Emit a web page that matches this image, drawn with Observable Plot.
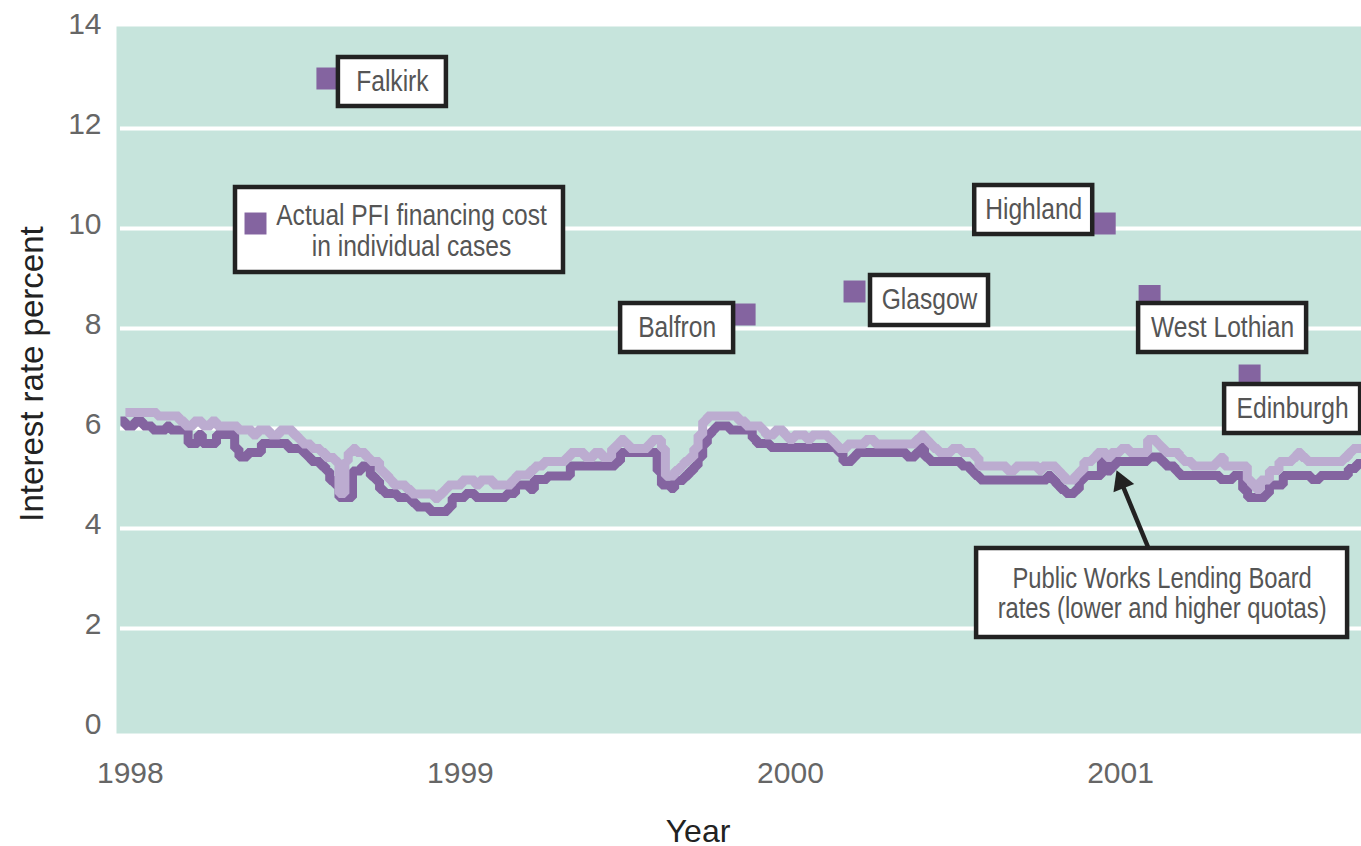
<!DOCTYPE html>
<html><head><meta charset="utf-8">
<script src="https://cdn.jsdelivr.net/npm/d3@7"></script>
<script src="https://cdn.jsdelivr.net/npm/@observablehq/plot@0.6"></script>
<style>
html,body{margin:0;padding:0;background:#fff;}
#chart svg{display:block;}
</style></head><body><div id="chart"></div>
<script>
// ---------- data ----------
const xTicks = [1998, 1999, 2000, 2001];
const yTicks = [0, 2, 4, 6, 8, 10, 12, 14];
const gridValues = [2, 4, 6, 8, 10, 12];
const yTitle = "Interest rate percent";
const xTitle = "Year";

// PWLB higher quota (upper, light line)
const upperYears = [1997.985,1998.081,1998.148,1998.165,1998.192,1998.218,1998.245,1998.261,1998.326,1998.370,1998.385,1998.422,1998.452,1998.493,1998.508,1998.521,1998.548,1998.576,1998.592,1998.619,1998.632,1998.650,1998.660,1998.673,1998.685,1998.713,1998.727,1998.755,1998.769,1998.783,1998.796,1998.836,1998.852,1998.921,1998.934,1998.949,1998.962,1999.005,1999.045,1999.059,1999.099,1999.155,1999.169,1999.210,1999.225,1999.252,1999.318,1999.333,1999.376,1999.404,1999.429,1999.458,1999.472,1999.485,1999.498,1999.512,1999.568,1999.581,1999.609,1999.621,1999.649,1999.665,1999.677,1999.692,1999.707,1999.720,1999.734,1999.748,1999.842,1999.864,1999.912,1999.924,1999.952,1999.980,1999.993,2000.010,2000.048,2000.064,2000.116,2000.131,2000.144,2000.172,2000.227,2000.255,2000.379,2000.394,2000.406,2000.419,2000.432,2000.448,2000.488,2000.518,2000.558,2000.571,2000.655,2000.682,2000.751,2000.763,2000.805,2000.818,2000.831,2000.862,2000.875,2000.889,2000.915,2000.929,2000.958,2000.971,2001.000,2001.026,2001.082,2001.109,2001.122,2001.136,2001.178,2001.190,2001.217,2001.289,2001.301,2001.314,2001.384,2001.397,2001.410,2001.424,2001.451,2001.480,2001.521,2001.535,2001.548,2001.564,2001.675,2001.690,2001.703,2001.730];
const upperRates = [6.32,6.25,6.15,6.05,6.15,6.05,6.15,6.05,5.97,5.87,5.97,5.87,5.97,5.87,5.78,5.69,5.60,5.52,5.42,5.34,4.70,5.34,5.52,5.60,5.52,5.42,5.34,5.16,5.07,4.97,4.87,4.78,4.69,4.60,4.69,4.78,4.87,4.97,4.87,4.97,4.87,4.97,5.07,5.16,5.25,5.34,5.42,5.52,5.42,5.52,5.42,5.60,5.69,5.78,5.69,5.60,5.69,5.78,5.60,5.05,5.16,5.25,5.34,5.42,5.60,5.87,6.15,6.25,6.15,6.05,5.97,5.87,5.97,5.87,5.78,5.87,5.78,5.87,5.78,5.69,5.60,5.69,5.78,5.69,5.78,5.87,5.78,5.69,5.60,5.52,5.60,5.52,5.42,5.25,5.16,5.25,5.16,5.25,5.16,5.07,4.97,5.07,5.16,5.34,5.42,5.52,5.42,5.52,5.60,5.52,5.78,5.69,5.60,5.52,5.42,5.34,5.25,5.34,5.42,5.25,4.97,4.87,4.78,4.97,5.16,5.34,5.42,5.52,5.42,5.34,5.42,5.52,5.60,5.60];

// PWLB lower quota (lower, dark line)
const lowerYears = [1997.970,1997.985,1998.013,1998.038,1998.067,1998.109,1998.121,1998.175,1998.205,1998.218,1998.261,1998.316,1998.329,1998.355,1998.397,1998.478,1998.521,1998.535,1998.548,1998.576,1998.592,1998.604,1998.619,1998.632,1998.673,1998.700,1998.727,1998.742,1998.755,1998.769,1998.809,1998.852,1998.867,1998.907,1998.962,1998.975,1999.015,1999.045,1999.139,1999.167,1999.210,1999.224,1999.263,1999.333,1999.470,1999.485,1999.596,1999.609,1999.636,1999.649,1999.677,1999.692,1999.707,1999.720,1999.734,1999.748,1999.761,1999.773,1999.815,1999.884,1999.897,1999.939,2000.144,2000.159,2000.187,2000.200,2000.352,2000.379,2000.394,2000.406,2000.421,2000.518,2000.545,2000.558,2000.574,2000.778,2000.791,2000.805,2000.818,2000.834,2000.862,2000.875,2000.889,2000.942,2000.958,2000.971,2000.985,2001.082,2001.122,2001.136,2001.165,2001.178,2001.301,2001.341,2001.370,2001.385,2001.439,2001.451,2001.493,2001.577,2001.604,2001.690,2001.715,2001.730];
const lowerRates = [6.15,6.05,6.15,6.05,5.97,6.05,5.97,5.70,5.88,5.70,5.88,5.60,5.43,5.52,5.70,5.60,5.52,5.43,5.34,5.25,5.15,4.96,4.87,4.62,5.15,5.25,5.05,4.96,4.78,4.70,4.62,4.52,4.43,4.34,4.43,4.62,4.70,4.62,4.70,4.87,4.78,4.98,5.05,5.25,5.34,5.52,5.15,4.87,4.80,4.96,5.05,5.15,5.25,5.43,5.70,5.88,5.97,6.05,5.97,5.80,5.70,5.62,5.52,5.34,5.43,5.52,5.43,5.52,5.70,5.43,5.34,5.25,5.15,5.06,4.97,5.06,4.97,4.87,4.78,4.70,4.78,4.97,5.06,5.34,5.15,5.25,5.34,5.43,5.34,5.25,5.15,5.06,4.98,5.06,4.78,4.62,4.70,4.87,5.06,4.98,5.06,5.20,5.30,5.30];

// Actual PFI financing cost in individual cases
const schemeNames = ["Falkirk", "Balfron", "Glasgow", "Highland", "West Lothian", "Edinburgh"];
const schemeYears = [1998.597, 1999.861, 2000.194, 2000.952, 2001.088, 2001.391];
const schemeRates = [13.0, 8.28, 8.74, 10.1, 8.65, 7.06];

const legendText = "Actual PFI financing cost\nin individual cases";
const pwlbText = "Public Works Lending Board\nrates (lower and higher quotas)";
const pwlbTarget = {year: 2000.988, rate: 5.16};
const pwlbTail = {year: 2001.085, rate: 3.60};

// ---------- layout (annotation placement, px) ----------
const labelLayout = {
  "Falkirk":      {dx: 65,    dy: 3.5,  w: 108, h: 49},
  "Balfron":      {dx: -67.5, dy: 13.5, w: 113, h: 49},
  "Glasgow":      {dx: 75,    dy: 9,    w: 118, h: 50},
  "Highland":     {dx: -71,   dy: -13.5,w: 118, h: 49},
  "West Lothian": {dx: 73,    dy: 32,   w: 168, h: 49},
  "Edinburgh":    {dx: 43,    dy: 33.5, w: 136, h: 49}
};
const pwlbBox = {dx: 45.5, dy: 122.5, w: 371, h: 89};
const legendBox = {x: 119, y: 161, w: 328, h: 85}; // relative to frame top-left

// ---------- build ----------
const upper = upperYears.map((y, i) => ({year: y, rate: upperRates[i]}));
const lower = lowerYears.map((y, i) => ({year: y, rate: lowerRates[i]}));
const schemes = schemeNames.map((n, i) => ({name: n, year: schemeYears[i], rate: schemeRates[i]}));

const purple = "#8464a0", lilac = "#bcacd0", teal = "#c6e4dc", ink = "#222";
const sans = "'Liberation Sans', Arial, sans-serif";

const marks = [
  Plot.frame({fill: teal, stroke: "none"}),
  Plot.ruleY(gridValues, {stroke: "white", strokeWidth: 4, x1: 1997.97, x2: 2001.73}),
  Plot.line(lower, {x: "year", y: "rate", curve: "step-after", stroke: purple, strokeWidth: 9, strokeLinejoin: "miter", strokeLinecap: "butt", clip: true}),
  Plot.line(upper, {x: "year", y: "rate", curve: "step-after", stroke: lilac, strokeWidth: 9, strokeLinejoin: "miter", strokeLinecap: "butt", clip: true}),
  Plot.dot(schemes, {x: "year", y: "rate", symbol: "square", r: 12.4, fill: purple, stroke: "none"}),
  Plot.link([{}], {x1: () => pwlbTail.year, y1: () => pwlbTail.rate, x2: () => pwlbTarget.year + 0.014, y2: () => pwlbTarget.rate - 0.23, stroke: ink, strokeWidth: 4.5}),
  Plot.dot([pwlbTarget], {x: "year", y: "rate", symbol: "triangle", r: 8.3, rotate: -22, dx: 4.8, dy: 11.7, fill: ink, stroke: "none"}),
  ...schemes.map(s => Plot.text([s], {x: "year", y: "rate", text: "name", dx: labelLayout[s.name].dx, dy: labelLayout[s.name].dy - 1, fontFamily: sans, fontSize: 30, fill: "#555", textAnchor: "middle", lineAnchor: "middle", ariaDescription: "labels"})),
  Plot.dot([legendText], {frameAnchor: "top-left", dx: 139, dy: 197, symbol: "square", r: 12.4, fill: purple, stroke: "none"}),
  Plot.text([legendText], {frameAnchor: "top-left", text: d => d, dx: 295, dy: 204.5, lineHeight: 1.03, fontFamily: sans, fontSize: 30, fill: "#555", textAnchor: "middle", lineAnchor: "middle", ariaDescription: "narrow"}),
  Plot.text([pwlbTarget], {x: "year", y: "rate", text: () => pwlbText, dx: pwlbBox.dx, dy: pwlbBox.dy, lineHeight: 1.04, fontFamily: sans, fontSize: 29, fill: "#555", textAnchor: "middle", lineAnchor: "middle", ariaDescription: "narrow"}),
  Plot.text([yTitle], {frameAnchor: "left", text: d => d, dx: -84, dy: -6, rotate: -90, fontSize: 33, fill: ink, textAnchor: "middle", lineAnchor: "middle"}),
  Plot.text([xTitle], {frameAnchor: "bottom", text: d => d, dx: -41, dy: 98, fontSize: 32, fill: ink, textAnchor: "middle", lineAnchor: "middle"}),
  Plot.axisY(yTicks, {tickSize: 0, tickPadding: 15, fontSize: 30, color: "#666", label: null, dy: -4, tickFormat: d => String(d)}),
  Plot.axisX(xTicks, {tickSize: 0, tickPadding: 28, fontSize: 30, color: "#666", label: null, tickFormat: d => String(d)})
];

const plot = Plot.plot({
  width: 1361, height: 846,
  marginLeft: 116, marginRight: 0, marginTop: 26, marginBottom: 113,
  x: {domain: [1997.958, 2001.730]},
  y: {domain: [-0.1, 14.04]},
  style: {background: "white", fontFamily: sans, fontSize: "30px", overflow: "visible"},
  marks
});
document.getElementById("chart").append(plot);

// ---------- condensed look for annotation texts ----------
plot.querySelectorAll('g[aria-description="labels"] text, g[aria-description="narrow"] text').forEach(el => {
  const t = el.getAttribute("transform") || "";
  const x = +el.getAttribute("x") || 0, y = +el.getAttribute("y") || 0;
  el.setAttribute("transform", `${t} translate(${x},${y}) scale(0.82,1) translate(${-x},${-y})`);
});

// ---------- white annotation boxes behind labels ----------
const ns = "http://www.w3.org/2000/svg";
const xs = plot.scale("x"), ys = plot.scale("y");
const firstLabel = plot.querySelector('g[aria-description="labels"]');
const boxG = document.createElementNS(ns, "g");
firstLabel.parentNode.insertBefore(boxG, firstLabel);
function addBox(cx, cy, w, h) {
  const r = document.createElementNS(ns, "rect");
  r.setAttribute("x", cx - w / 2); r.setAttribute("y", cy - h / 2);
  r.setAttribute("width", w); r.setAttribute("height", h);
  r.setAttribute("fill", "white"); r.setAttribute("stroke", ink); r.setAttribute("stroke-width", 4.5);
  boxG.appendChild(r);
}
schemes.forEach(s => {
  const L = labelLayout[s.name];
  addBox(xs.apply(s.year) + L.dx, ys.apply(s.rate) + L.dy, L.w, L.h);
});
addBox(xs.apply(pwlbTarget.year) + pwlbBox.dx, ys.apply(pwlbTarget.rate) + pwlbBox.dy, pwlbBox.w, pwlbBox.h);
addBox(116 + legendBox.x + legendBox.w / 2, 26 + legendBox.y + legendBox.h / 2, legendBox.w, legendBox.h);
</script>
</body></html>
